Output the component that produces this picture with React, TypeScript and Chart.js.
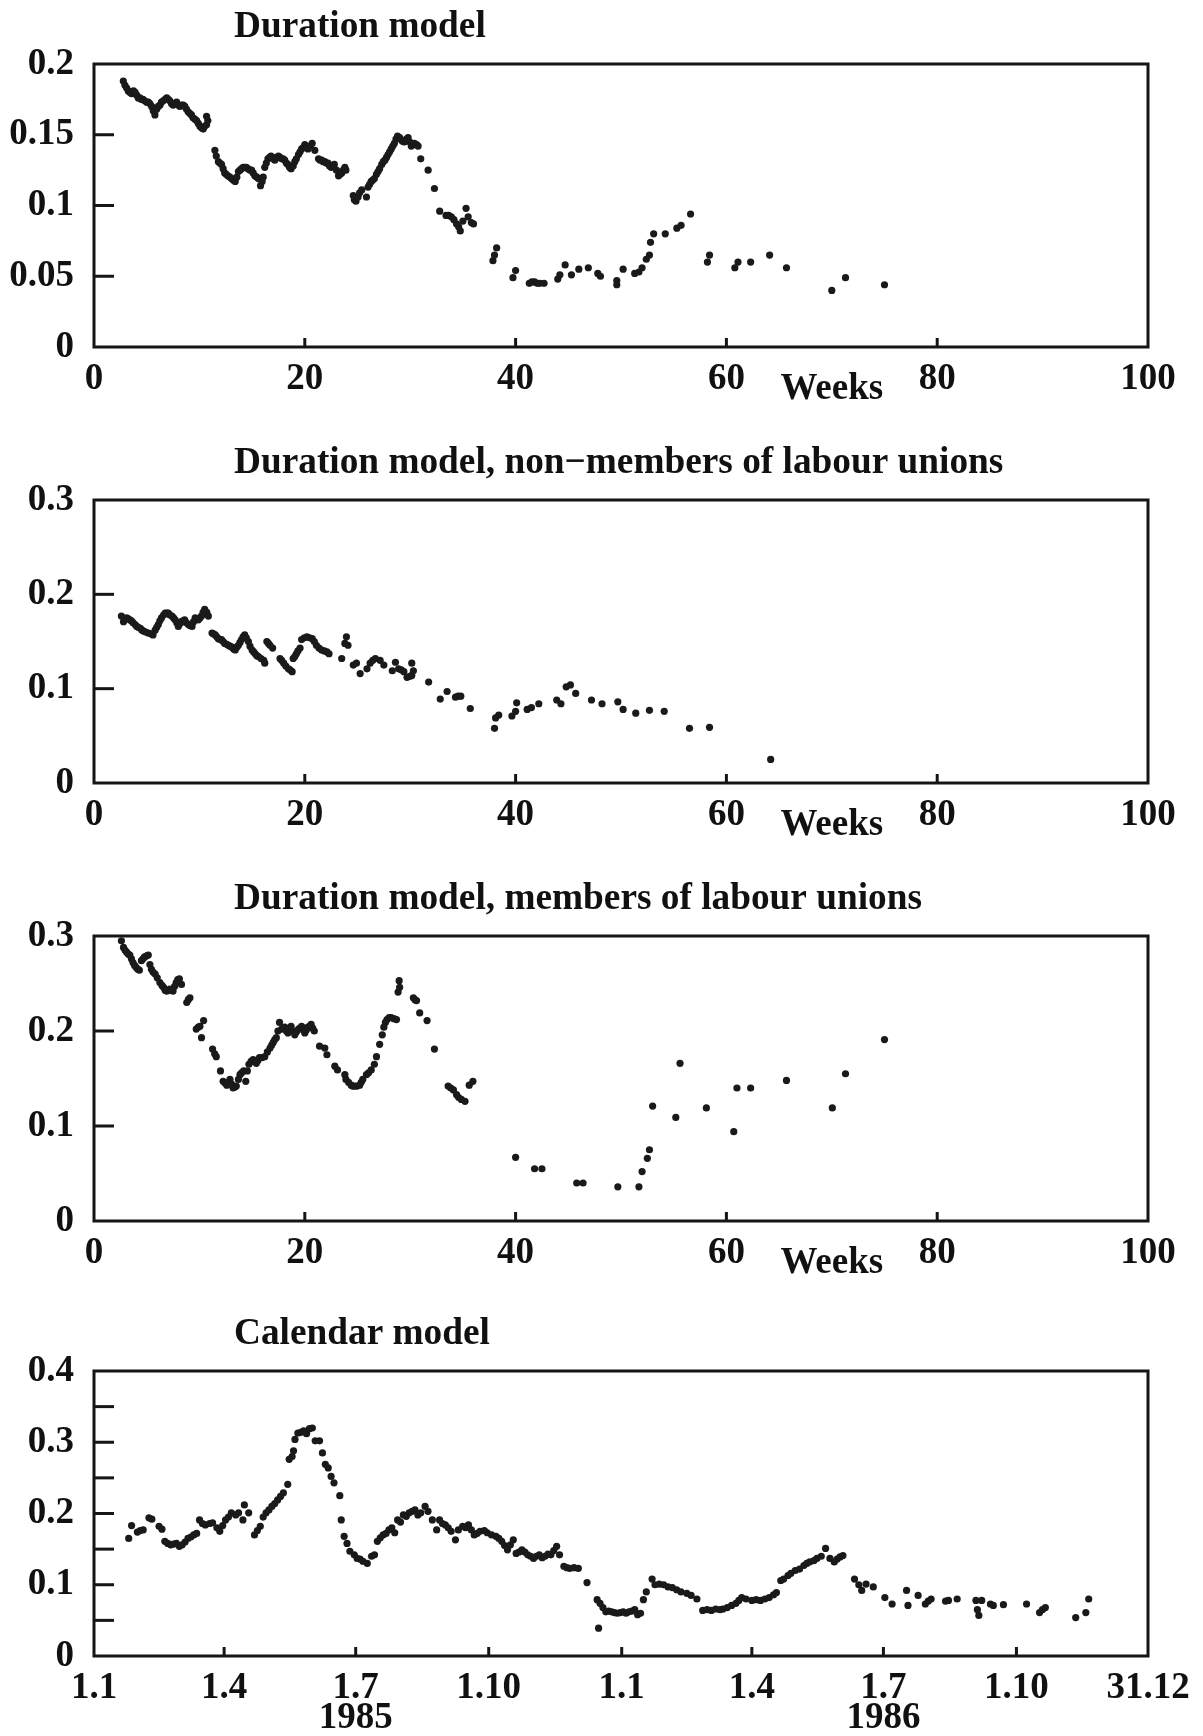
import React, { useEffect, useRef } from "react";
import { Chart, registerables } from "chart.js";
Chart.register(...registerables);

const FONT = '"Liberation Serif", "Times New Roman", serif';

// ---------- axis ticks ----------
const weekTickValues = [0, 20, 40, 60, 80, 100];
const weekTickLabels = ["0", "20", "40", "60", "80", "100"];
const weekTickMarks = [20, 40, 60, 80];

const dateTickValues = [0, 90, 181, 273, 365, 455, 546, 638, 729];
const dateTickLabels = ["1.1", "1.4", "1.7", "1.10", "1.1", "1.4", "1.7", "1.10", "31.12"];
const dateTickMarks = [90, 181, 273, 365, 455, 546, 638];
const yearLabels = ["1985", "1986"];
const yearLabelDays = [181, 546];

const rateTicksA = [0, 0.05, 0.1, 0.15, 0.2];
const rateLabelsA = ["0", "0.05", "0.1", "0.15", "0.2"];
const rateTicksB = [0, 0.1, 0.2, 0.3];
const rateLabelsB = ["0", "0.1", "0.2", "0.3"];
const rateTicksC = [0, 0.05, 0.1, 0.15, 0.2, 0.25, 0.3, 0.35, 0.4];
const rateLabelsC = ["0", "", "0.1", "", "0.2", "", "0.3", "", "0.4"];

const titles = [
  "Duration model",
  "Duration model, non\u2212members of labour unions",
  "Duration model, members of labour unions",
  "Calendar model",
];
const weeksLabel = "Weeks";

// ---------- series: [week, rate] ----------
const durationAll: [number, number][] = [
  [2.78, .188], [2.94, .185], [3.1, .183], [3.25, .181], [3.4, .18], [3.57, .179], [3.75, .181], [3.9, .18],
  [4.05, .178], [4.2, .176], [4.35, .176], [4.5, .175], [4.65, .175], [4.8, .174], [5.0, .173], [5.15, .173],
  [5.3, .172], [5.47, .17], [5.62, .167], [5.78, .164], [5.94, .168], [6.1, .17], [6.26, .171], [6.4, .173],
  [6.57, .174], [6.75, .175], [6.9, .176], [7.05, .175], [7.2, .174], [7.35, .172], [7.5, .171], [7.67, .172],
  [7.84, .173], [8.0, .171], [8.15, .17], [8.3, .171], [8.47, .171], [8.62, .17], [8.78, .168], [8.95, .166],
  [9.1, .165], [9.25, .164], [9.4, .162], [9.57, .161], [9.73, .16], [9.9, .158], [10.05, .156], [10.2, .155],
  [10.36, .154], [10.5, .156], [10.68, .157], [10.68, .163], [10.8, .16], [11.47, .139], [11.6, .135], [11.8, .131],
  [11.95, .13], [12.1, .129], [12.25, .126], [12.4, .123], [12.55, .122], [12.7, .121], [12.9, .12], [13.05, .119],
  [13.2, .118], [13.4, .117], [13.55, .12], [13.7, .124], [13.85, .125], [14.0, .126], [14.15, .127], [14.3, .127],
  [14.45, .127], [14.6, .126], [14.8, .125], [14.95, .125], [15.1, .123], [15.26, .121], [15.45, .12], [15.6, .119],
  [15.8, .114], [15.95, .117], [16.05, .12], [16.2, .127], [16.35, .13], [16.5, .133], [16.65, .134], [16.8, .135],
  [17.0, .133], [17.15, .132], [17.3, .134], [17.5, .135], [17.65, .134], [17.8, .133], [17.95, .133], [18.1, .132],
  [18.25, .13], [18.4, .129], [18.55, .127], [18.7, .126], [18.9, .128], [19.05, .131], [19.2, .133], [19.4, .136],
  [19.55, .138], [19.7, .14], [19.85, .141], [20.0, .143], [20.15, .141], [20.3, .14], [20.5, .142], [20.7, .144],
  [20.95, .139], [21.3, .133], [21.45, .132], [21.6, .132], [21.75, .131], [21.9, .131], [22.05, .13], [22.2, .13],
  [22.35, .128], [22.5, .127], [22.65, .128], [22.8, .129], [23.0, .125], [23.2, .121], [23.35, .122], [23.5, .123],
  [23.65, .125], [23.8, .127], [23.9, .125], [24.6, .107], [24.7, .104], [24.85, .103], [25.05, .106], [25.2, .109],
  [25.4, .111], [25.85, .106], [26.0, .113], [26.15, .115], [26.3, .117], [26.45, .118], [26.6, .119], [26.8, .122],
  [26.95, .124], [27.1, .126], [27.3, .129], [27.45, .131], [27.6, .132], [27.75, .134], [27.9, .136], [28.05, .138],
  [28.2, .14], [28.35, .142], [28.5, .144], [28.65, .147], [28.8, .149], [29.0, .148], [29.2, .146], [29.35, .145],
  [29.5, .145], [29.65, .147], [29.8, .148], [29.95, .145], [30.1, .142], [30.25, .143], [30.4, .144], [30.6, .143],
  [30.75, .142], [31.0, .133], [31.7, .125], [32.3, .112], [32.8, .096], [33.4, .093], [33.65, .093], [33.9, .092],
  [34.15, .09], [34.4, .087], [34.6, .085], [34.75, .082], [35.0, .089], [35.3, .098], [35.5, .092], [35.8, .088],
  [36.0, .087], [37.85, .061], [38.0, .065], [38.2, .07], [39.75, .049], [40.0, .054], [41.3, .045], [41.55, .046],
  [41.8, .046], [42.05, .045], [42.3, .045], [42.7, .045], [44.0, .048], [44.2, .051], [44.7, .058], [45.3, .051],
  [46.0, .055], [46.9, .056], [47.8, .052], [48.05, .05], [49.6, .047], [49.6, .044], [50.2, .055], [51.3, .052],
  [51.7, .053], [52.0, .056], [52.4, .062], [52.7, .065], [52.8, .074], [53.1, .08], [54.2, .08], [55.3, .084],
  [55.7, .086], [56.6, .094], [58.2, .06], [58.4, .065], [60.8, .056], [61.1, .06], [62.3, .06], [64.1, .065],
  [65.7, .056], [70.0, .04], [71.3, .049], [75.0, .044],
];

const durationNonMembers: [number, number][] = [
  [2.6, .177], [2.8, .171], [2.95, .174], [3.1, .175], [3.25, .174], [3.4, .173], [3.55, .172], [3.7, .17],
  [3.9, .168], [4.05, .166], [4.2, .165], [4.4, .164], [4.55, .162], [4.7, .161], [4.9, .16], [5.15, .159],
  [5.4, .158], [5.6, .157], [5.8, .162], [5.95, .165], [6.1, .168], [6.25, .172], [6.4, .175], [6.6, .178],
  [6.75, .18], [6.9, .18], [7.05, .18], [7.2, .178], [7.4, .177], [7.55, .175], [7.7, .173], [7.85, .17],
  [8.0, .166], [8.15, .169], [8.3, .171], [8.45, .172], [8.6, .173], [8.75, .17], [8.95, .168], [9.1, .167],
  [9.3, .166], [9.45, .171], [9.6, .175], [9.75, .174], [9.9, .173], [10.05, .175], [10.2, .177], [10.35, .181],
  [10.5, .184], [10.7, .181], [10.85, .177], [11.2, .159], [11.35, .158], [11.5, .157], [11.65, .155], [11.8, .153],
  [11.95, .152], [12.1, .152], [12.25, .15], [12.4, .148], [12.6, .147], [12.75, .146], [12.9, .145], [13.1, .144],
  [13.25, .142], [13.4, .141], [13.55, .144], [13.7, .146], [13.85, .149], [14.0, .152], [14.15, .155], [14.3, .157],
  [14.45, .154], [14.65, .15], [14.8, .145], [15.0, .141], [15.15, .139], [15.3, .137], [15.45, .135], [15.6, .134],
  [15.85, .132], [16.1, .13], [16.2, .127], [16.4, .15], [16.55, .148], [16.7, .146], [16.95, .143], [17.65, .132],
  [17.8, .13], [18.0, .127], [18.2, .124], [18.45, .121], [18.6, .12], [18.8, .118], [18.9, .132], [19.05, .134],
  [19.2, .137], [19.35, .14], [19.55, .143], [19.7, .152], [19.95, .154], [20.2, .155], [20.45, .154], [20.7, .153],
  [20.9, .15], [21.1, .146], [21.35, .143], [21.6, .141], [21.85, .14], [22.1, .139], [22.3, .137], [23.5, .132],
  [23.8, .148], [23.95, .155], [24.1, .146], [24.6, .125], [24.9, .127], [25.25, .116], [25.9, .121], [26.2, .127],
  [26.45, .13], [26.7, .132], [27.15, .13], [27.5, .125], [28.3, .119], [28.6, .128], [28.9, .121], [29.15, .12],
  [29.4, .118], [29.7, .112], [29.95, .113], [30.15, .114], [30.15, .127], [30.3, .119], [31.75, .107], [32.85, .089],
  [33.5, .097], [34.3, .091], [34.55, .092], [34.8, .092], [35.7, .079], [38.0, .058], [38.1, .069], [38.4, .072],
  [39.65, .071], [40.0, .076], [40.1, .085], [41.1, .078], [41.5, .08], [42.2, .084], [43.9, .088], [44.3, .084],
  [44.8, .102], [45.2, .104], [45.7, .095], [47.2, .088], [48.2, .084], [49.7, .086], [50.2, .078], [51.4, .074],
  [52.7, .077], [54.1, .076], [56.5, .058], [58.4, .059], [64.2, .025],
];

const durationMembers: [number, number][] = [
  [2.6, .295], [2.8, .288], [2.95, .285], [3.1, .283], [3.25, .281], [3.4, .28], [3.55, .276], [3.7, .272],
  [3.85, .269], [4.0, .267], [4.15, .265], [4.3, .264], [4.5, .274], [4.65, .276], [4.8, .278], [5.0, .279],
  [5.15, .28], [5.3, .27], [5.45, .265], [5.6, .262], [5.8, .26], [6.0, .256], [6.25, .251], [6.45, .248],
  [6.6, .246], [6.75, .243], [6.9, .242], [7.05, .243], [7.2, .244], [7.35, .243], [7.5, .242], [7.65, .247],
  [7.8, .251], [7.95, .254], [8.1, .255], [8.3, .249], [8.8, .23], [8.95, .233], [9.1, .235], [9.7, .202],
  [9.9, .204], [10.05, .205], [10.2, .193], [10.4, .211], [11.25, .181], [11.45, .176], [11.6, .173], [12.0, .158],
  [12.25, .147], [12.45, .145], [12.6, .143], [12.75, .146], [12.9, .149], [13.05, .144], [13.2, .14], [13.35, .141],
  [13.5, .142], [13.7, .149], [13.85, .154], [14.0, .156], [14.2, .158], [14.4, .147], [14.55, .158], [14.7, .165],
  [14.9, .168], [15.1, .17], [15.25, .168], [15.4, .166], [15.55, .169], [15.7, .172], [15.95, .172], [16.2, .173],
  [16.45, .178], [16.7, .182], [16.85, .185], [17.0, .188], [17.15, .191], [17.3, .193], [17.45, .2], [17.6, .209],
  [17.8, .202], [17.95, .203], [18.1, .204], [18.25, .2], [18.4, .198], [18.55, .202], [18.7, .205], [18.85, .2],
  [19.05, .196], [19.2, .199], [19.4, .202], [19.55, .203], [19.7, .205], [19.85, .201], [20.0, .198], [20.15, .201],
  [20.3, .204], [20.45, .205], [20.6, .207], [20.75, .203], [20.9, .2], [21.4, .184], [21.9, .182], [22.1, .175],
  [22.85, .163], [23.1, .159], [23.8, .154], [23.9, .149], [24.15, .146], [24.4, .143], [24.55, .142], [24.7, .142],
  [24.95, .142], [25.2, .143], [25.35, .146], [25.5, .149], [25.85, .154], [26.05, .156], [26.3, .159], [26.6, .165],
  [26.8, .173], [27.1, .186], [27.35, .196], [27.5, .204], [27.65, .209], [27.8, .212], [28.0, .214], [28.2, .214],
  [28.45, .213], [28.7, .212], [28.85, .241], [28.95, .253], [29.0, .246], [30.3, .235], [30.45, .233], [30.6, .232],
  [30.9, .219], [31.6, .211], [32.3, .181], [33.6, .142], [33.85, .14], [34.1, .138], [34.4, .133], [34.6, .13],
  [34.85, .128], [35.2, .126], [35.6, .143], [35.95, .147], [40.0, .067], [41.8, .055], [42.5, .055], [45.8, .04],
  [46.4, .04], [49.7, .036], [51.7, .036], [52.0, .052], [52.5, .066], [52.7, .075], [53.0, .121], [55.2, .109],
  [55.6, .166], [58.1, .119], [60.7, .094], [61.0, .14], [62.3, .14], [65.7, .148], [70.05, .119], [71.3, .155],
  [75.0, .191],
];

// ---------- calendar model: [day since 1.1.1985, rate] ----------
const calendarRates: [number, number][] = [
  [24, .165], [26, .183], [30, .174], [32, .176], [34, .177], [38, .194], [40, .192], [45, .182], [47, .178],
  [49, .161], [51, .158], [53, .156], [55, .157], [57, .158], [59, .154], [61, .156], [63, .16], [65, .165],
  [67, .167], [69, .17], [71, .172], [73, .191], [75, .186], [77, .184], [80, .186], [82, .187], [85, .18],
  [87, .175], [89, .183], [91, .191], [93, .195], [95, .201], [98, .198], [100, .201], [103, .191], [104, .212],
  [107, .201], [111, .17], [113, .176], [115, .182], [117, .195], [119, .201], [121, .205], [123, .21], [125, .214],
  [127, .219], [129, .224], [131, .229], [134, .241], [135, .276], [137, .28], [138, .288], [139, .304], [141, .313],
  [143, .314], [145, .316], [147, .312], [149, .319], [151, .32], [153, .302], [156, .302], [158, .285], [160, .269],
  [162, .264], [164, .252], [166, .243], [170, .225], [171, .191], [173, .168], [175, .158], [177, .147], [180, .142],
  [182, .137], [184, .136], [186, .133], [189, .13], [192, .14], [194, .142], [196, .161], [198, .166], [200, .17],
  [202, .172], [204, .177], [206, .18], [208, .173], [210, .191], [212, .188], [214, .198], [216, .196], [218, .201],
  [220, .203], [222, .205], [224, .198], [226, .201], [229, .21], [231, .203], [234, .191], [237, .177], [239, .191],
  [241, .186], [243, .184], [245, .18], [247, .175], [250, .163], [252, .177], [255, .182], [257, .18], [259, .184],
  [261, .177], [263, .17], [265, .172], [267, .175], [270, .176], [272, .173], [275, .17], [278, .168], [280, .165],
  [282, .161], [284, .155], [286, .149], [288, .156], [290, .163], [292, .144], [294, .146], [296, .149], [298, .146],
  [300, .142], [302, .14], [304, .137], [306, .14], [308, .142], [310, .138], [312, .14], [314, .143], [316, .142],
  [318, .148], [320, .154], [322, .142], [325, .126], [327, .124], [329, .123], [332, .124], [335, .123], [341, .103],
  [348, .079], [349, .039], [350, .074], [352, .068], [354, .062], [356, .063], [358, .062], [360, .061], [362, .06],
  [364, .061], [366, .062], [368, .06], [370, .062], [372, .063], [374, .065], [376, .058], [378, .06], [380, .079],
  [382, .09], [386, .108], [388, .1], [391, .101], [394, .1], [397, .097], [400, .096], [403, .093], [406, .09],
  [410, .088], [413, .085], [417, .08], [421, .064], [424, .065], [427, .064], [430, .066], [433, .065], [435, .066],
  [438, .068], [441, .071], [444, .074], [446, .078], [448, .082], [451, .08], [455, .078], [458, .079], [461, .078],
  [464, .08], [467, .082], [470, .086], [472, .089], [475, .106], [477, .108], [480, .113], [482, .116], [485, .12],
  [488, .122], [491, .127], [493, .13], [495, .132], [498, .134], [500, .137], [503, .14], [506, .151], [509, .137],
  [512, .132], [514, .136], [516, .139], [518, .141], [526, .108], [529, .1], [531, .092], [534, .101], [539, .097],
  [547, .082], [552, .073], [562, .092], [563, .071], [570, .085], [575, .073], [577, .077], [579, .08], [589, .077],
  [591, .078], [597, .08], [610, .078], [611, .065], [612, .057], [614, .078], [620, .073], [622, .071], [629, .072],
  [645, .073], [654, .061], [656, .065], [658, .068], [679, .054], [686, .061], [688, .08],
];

// ---------- panel setup ----------
type Panel = {
  title: string;
  points: [number, number][];
  xMin: number; xMax: number;
  xTicks: number[]; xLabels: string[]; xMarks: number[];
  yMax: number; yTicks: number[]; yLabels: string[];
  canvasTop: number; areaTop: number; areaBottom: number; axisH: number;
  weeks?: boolean; years?: boolean;
};

const AREA_LEFT = 94;
const AREA_RIGHT = 1148;
const PAGE_W = 1203;
const PAGE_H = 1736;

const panels: Panel[] = [
  { title: titles[0], points: durationAll, xMin: 0, xMax: 100, xTicks: weekTickValues, xLabels: weekTickLabels, xMarks: weekTickMarks,
    yMax: 0.2, yTicks: rateTicksA, yLabels: rateLabelsA, canvasTop: 0, areaTop: 64, areaBottom: 347, axisH: 63, weeks: true },
  { title: titles[1], points: durationNonMembers, xMin: 0, xMax: 100, xTicks: weekTickValues, xLabels: weekTickLabels, xMarks: weekTickMarks,
    yMax: 0.3, yTicks: rateTicksB, yLabels: rateLabelsB, canvasTop: 430, areaTop: 500, areaBottom: 783, axisH: 63, weeks: true },
  { title: titles[2], points: durationMembers, xMin: 0, xMax: 100, xTicks: weekTickValues, xLabels: weekTickLabels, xMarks: weekTickMarks,
    yMax: 0.3, yTicks: rateTicksB, yLabels: rateLabelsB, canvasTop: 866, areaTop: 936, areaBottom: 1221, axisH: 63, weeks: true },
  { title: titles[3], points: calendarRates, xMin: 0, xMax: 729, xTicks: dateTickValues, xLabels: dateTickLabels, xMarks: dateTickMarks,
    yMax: 0.4, yTicks: rateTicksC, yLabels: rateLabelsC, canvasTop: 1301, areaTop: 1371, areaBottom: 1656, axisH: 80, years: true },
];

function PanelChart({ p }: { p: Panel }) {
  const ref = useRef<HTMLCanvasElement | null>(null);
  const height = p.areaBottom - p.canvasTop + p.axisH;
  useEffect(() => {
    if (!ref.current) return;
    const tickFont = { family: FONT, size: 37, weight: "bold" as const };
    const deco = {
      id: "deco",
      afterDraw(chart: any) {
        const { ctx, chartArea: a, scales } = chart;
        const xs = scales.x, ys = scales.y;
        ctx.save();
        ctx.strokeStyle = "#151515";
        ctx.lineWidth = 3;
        ctx.strokeRect(a.left, a.top, a.right - a.left, a.bottom - a.top);
        // inward tick marks
        for (const v of p.yTicks) {
          if (v <= 0 || v >= p.yMax) continue;
          const y = ys.getPixelForValue(v);
          ctx.beginPath(); ctx.moveTo(a.left, y); ctx.lineTo(a.left + 20, y); ctx.stroke();
        }
        for (const v of p.xMarks) {
          const x = xs.getPixelForValue(v);
          ctx.beginPath(); ctx.moveTo(x, a.bottom); ctx.lineTo(x, a.bottom - 9); ctx.stroke();
        }
        ctx.fillStyle = "#111";
        ctx.textBaseline = "middle";
        ctx.textAlign = "left";
        ctx.font = `bold 37.3px ${FONT}`;
        ctx.fillText(p.title, 234, a.top - 37);
        ctx.font = `bold 37px ${FONT}`;
        ctx.textAlign = "center";
        if (p.weeks) {
          ctx.fillText(weeksLabel, xs.getPixelForValue(70), a.bottom + 42);
        }
        if (p.years) {
          yearLabels.forEach((t, i) => ctx.fillText(t, xs.getPixelForValue(yearLabelDays[i]), a.bottom + 62));
        }
        ctx.restore();
      },
    };
    const chart = new Chart(ref.current, {
      type: "scatter",
      data: {
        datasets: [{
          data: p.points.map(([x, y]) => ({ x, y })),
          pointRadius: 3.6,
          pointBackgroundColor: "#1a1a1a",
          pointBorderWidth: 0,
          showLine: false,
        }],
      },
      options: {
        animation: false,
        responsive: false,
        devicePixelRatio: 1,
        layout: { padding: { top: p.areaTop - p.canvasTop, left: 0, right: PAGE_W - AREA_RIGHT, bottom: 0 } },
        plugins: { legend: { display: false }, tooltip: { enabled: false }, title: { display: false } },
        scales: {
          x: {
            type: "linear", min: p.xMin, max: p.xMax,
            grid: { display: false, drawTicks: false },
            border: { display: false },
            afterBuildTicks: (s: any) => { s.ticks = p.xTicks.map((v) => ({ value: v })); },
            afterFit: (s: any) => { s.height = p.axisH; s.paddingLeft = 0; s.paddingRight = 0; },
            ticks: {
              font: tickFont, color: "#111", padding: 10, maxRotation: 0, autoSkip: false,
              callback: (v: any) => { const i = p.xTicks.indexOf(Number(v)); return i >= 0 ? p.xLabels[i] : ""; },
            },
          },
          y: {
            type: "linear", min: 0, max: p.yMax,
            grid: { display: false, drawTicks: false },
            border: { display: false },
            afterBuildTicks: (s: any) => { s.ticks = p.yTicks.map((v) => ({ value: v })); },
            afterFit: (s: any) => { s.width = AREA_LEFT; s.paddingTop = 0; s.paddingBottom = 0; },
            ticks: {
              font: tickFont, color: "#111", padding: 20, autoSkip: false,
              callback: (v: any) => { const i = p.yTicks.findIndex((t) => Math.abs(t - Number(v)) < 1e-9); return i >= 0 ? p.yLabels[i] : ""; },
            },
          },
        },
      } as any,
      plugins: [deco],
    });
    return () => chart.destroy();
  }, [p]);
  return (
    <canvas
      ref={ref}
      width={PAGE_W}
      height={height}
      style={{ position: "absolute", left: 0, top: p.canvasTop, width: PAGE_W, height }}
    />
  );
}

export default function App() {
  return (
    <div style={{ position: "absolute", left: 0, top: 0, width: PAGE_W, height: PAGE_H, background: "#fff", overflow: "hidden" }}>
      {panels.map((p, i) => <PanelChart key={i} p={p} />)}
    </div>
  );
}
